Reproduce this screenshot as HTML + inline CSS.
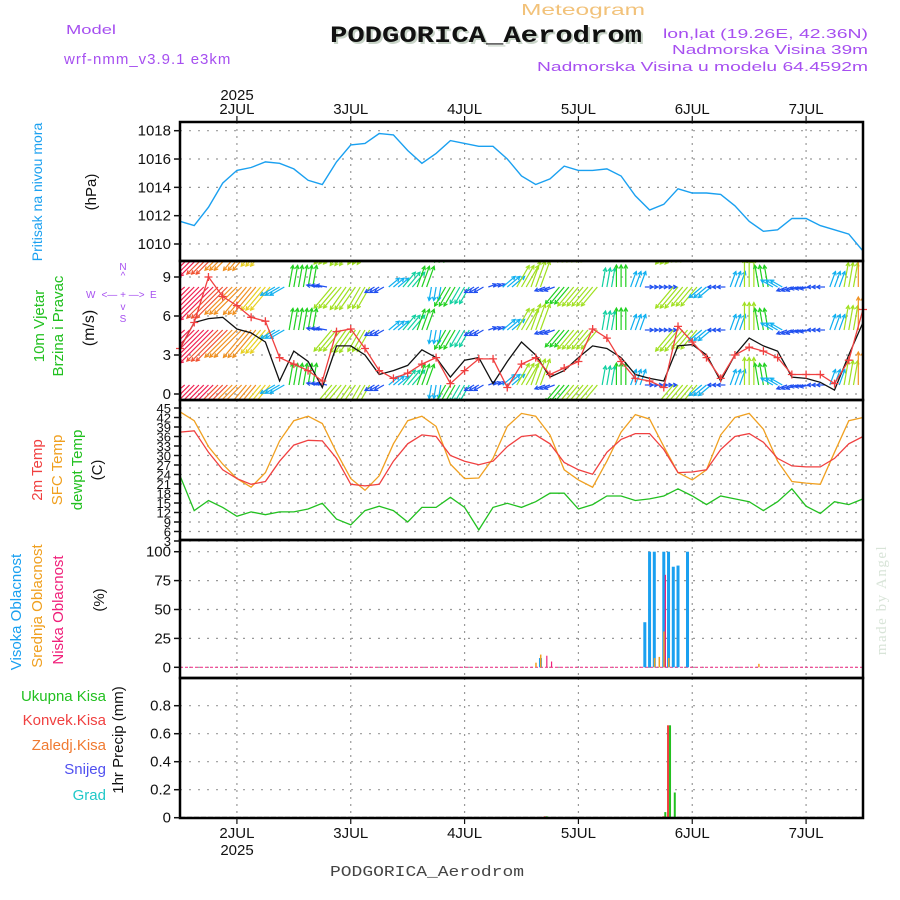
<!DOCTYPE html>
<html><head><meta charset="utf-8">
<style>
html,body{margin:0;padding:0;background:#fff;}
svg{display:block;font-family:"Liberation Sans",sans-serif;}
</style></head>
<body>
<svg id="chart" width="900" height="900" viewBox="0 0 900 900" xmlns="http://www.w3.org/2000/svg">
<defs>
<clipPath id="clipWind"><rect x="181" y="262" width="681" height="137"/></clipPath>
</defs>
<text x="521" y="15" font-size="16" fill="#f2c27a" textLength="124" lengthAdjust="spacingAndGlyphs">Meteogram</text>
<text x="332" y="44" font-size="23" font-weight="bold" fill="#c8d4c8" textLength="312" lengthAdjust="spacingAndGlyphs" font-family="Liberation Mono, monospace">PODGORICA_Aerodrom</text>
<text x="330" y="42" font-size="23" font-weight="bold" fill="#111" textLength="312" lengthAdjust="spacingAndGlyphs" font-family="Liberation Mono, monospace">PODGORICA_Aerodrom</text>
<text x="66" y="34" font-size="13" fill="#a64ff0" textLength="50" lengthAdjust="spacingAndGlyphs">Model</text>
<text x="64" y="64" font-size="15" fill="#a64ff0" letter-spacing="1">wrf-nmm_v3.9.1 e3km</text>
<text x="663" y="38" font-size="13" fill="#a64ff0" textLength="205" lengthAdjust="spacingAndGlyphs">lon,lat (19.26E, 42.36N)</text>
<text x="672" y="54" font-size="13" fill="#a64ff0" textLength="196" lengthAdjust="spacingAndGlyphs">Nadmorska Visina 39m</text>
<text x="537" y="71" font-size="13" fill="#a64ff0" textLength="331" lengthAdjust="spacingAndGlyphs">Nadmorska Visina u modelu 64.4592m</text>
<text x="237" y="100" font-size="15" fill="#111" text-anchor="middle">2025</text>
<text x="237" y="855" font-size="15" fill="#111" text-anchor="middle">2025</text>
<text x="330" y="876" font-size="15" fill="#444" textLength="194" lengthAdjust="spacingAndGlyphs" font-family="Liberation Mono, monospace">PODGORICA_Aerodrom</text>
<text transform="translate(886,600) rotate(-90)" font-size="15" fill="#d8e4d8" text-anchor="middle" font-family="Liberation Serif, serif" letter-spacing="1.5">made by Angel</text>

<text transform="translate(42,192) rotate(-90)" font-size="14" fill="#1aa0f0" text-anchor="middle">Pritisak na nivou mora</text>
<text transform="translate(96,192) rotate(-90)" font-size="15" fill="#111" text-anchor="middle">(hPa)</text>
<text transform="translate(44,326) rotate(-90)" font-size="15" fill="#22c020" text-anchor="middle">10m Vjetar</text>
<text transform="translate(63,326) rotate(-90)" font-size="15" fill="#22c020" text-anchor="middle">Brzina i Pravac</text>
<text transform="translate(94,328) rotate(-90)" font-size="16" fill="#111" text-anchor="middle">(m/s)</text>
<g font-size="10" fill="#a64ff0">
<text x="123" y="270" text-anchor="middle">N</text>
<text x="123" y="279" text-anchor="middle">^</text>
<text x="123" y="310" text-anchor="middle">v</text>
<text x="123" y="322" text-anchor="middle">S</text>
<text x="86" y="298">W</text>
<text x="150" y="298">E</text>
<text x="123" y="298" text-anchor="middle">&lt;— + —&gt;</text>
</g>
<text transform="translate(42,470) rotate(-90)" font-size="15" fill="#f04040" text-anchor="middle">2m Temp</text>
<text transform="translate(62,470) rotate(-90)" font-size="15" fill="#f0a020" text-anchor="middle">SFC Temp</text>
<text transform="translate(82,470) rotate(-90)" font-size="15" fill="#22c020" text-anchor="middle">dewpt Temp</text>
<text transform="translate(102,470) rotate(-90)" font-size="15" fill="#111" text-anchor="middle">(C)</text>
<text transform="translate(21,612) rotate(-90)" font-size="15" fill="#1aa0f0" text-anchor="middle">Visoka Oblacnost</text>
<text transform="translate(42,606) rotate(-90)" font-size="15" fill="#f0a020" text-anchor="middle">Srednja Oblacnost</text>
<text transform="translate(63,610) rotate(-90)" font-size="15" fill="#f0207a" text-anchor="middle">Niska Oblacnost</text>
<text transform="translate(104,600) rotate(-90)" font-size="15" fill="#111" text-anchor="middle">(%)</text>
<g font-size="15" text-anchor="end">
<text x="106" y="701" fill="#22c020">Ukupna Kisa</text>
<text x="106" y="725" fill="#f04040">Konvek.Kisa</text>
<text x="106" y="750" fill="#f07a30">Zaledj.Kisa</text>
<text x="106" y="774" fill="#5050f0">Snijeg</text>
<text x="106" y="800" fill="#20c8c8">Grad</text>
</g>
<text transform="translate(123,740) rotate(-90)" font-size="15" fill="#111" text-anchor="middle">1hr Precip (mm)</text>

<g id="grid"></g>
<g id="marks"></g>
<g id="frames"></g>
<g id="axes"></g>
</svg>
<script>
const dayLabels = ["2JUL","3JUL","4JUL","5JUL","6JUL","7JUL"];
const dayHours = [12,36,60,84,108,132];
const pressure = [1011.6,1011.3,1012.6,1014.3,1015.2,1015.4,1015.8,1015.7,1015.3,1014.5,1014.2,1015.8,1017.0,1017.1,1017.8,1017.7,1016.6,1015.7,1016.4,1017.3,1017.1,1016.9,1016.9,1016.0,1014.8,1014.2,1014.6,1015.5,1015.2,1015.2,1015.3,1014.8,1013.4,1012.4,1012.8,1013.9,1013.6,1013.6,1013.5,1012.7,1011.6,1010.9,1011.0,1011.8,1011.8,1011.3,1011.0,1010.7,1009.5];
const windSpeed = [3.5,5.5,5.8,5.9,5.0,4.7,4.0,1.0,3.3,2.5,0.5,3.7,3.7,3.0,1.5,1.8,2.2,3.4,2.8,1.3,2.6,2.8,0.8,2.5,4.0,3.0,1.3,1.8,2.8,3.7,3.5,2.8,1.5,1.2,1.0,3.7,3.8,3.0,1.0,3.0,4.3,3.7,3.3,1.3,1.2,0.9,0.3,3.0,5.5];
const windGust = [3.5,5.5,9.0,7.5,6.8,5.9,5.6,2.8,2.3,1.8,1.0,4.8,5.0,3.5,1.8,1.2,1.6,2.3,2.8,0.8,1.8,2.7,2.7,0.5,2.3,2.8,1.5,2.0,2.5,5.0,4.3,2.5,1.2,1.0,0.5,5.2,4.0,2.8,1.2,3.0,3.6,3.3,2.8,1.5,1.5,1.5,0.8,2.6,6.5];
const windDir = [50,45,45,45,45,40,40,60,190,190,100,40,35,30,60,230,220,200,10,30,30,60,250,230,210,200,70,40,40,40,190,180,200,270,270,40,40,50,90,200,180,170,120,70,80,90,200,190,180];
const windArrowSpd = [9,8.5,8.5,8,7,6.5,5.5,3,4,4,2,5,5,4.5,2,2.5,3.5,4,2.5,4,3.5,2,1.5,3,4.5,5,2,4,4.5,4.5,3.5,4,3,1.5,1.5,5,4.5,3,1.5,3,5,4,2.5,2,2,1.5,3,4.5,6];
const temp2m = [37.4,37.8,31,25.5,22.7,20.9,21.8,28.2,33.3,34.8,34.6,29.1,20.9,20.4,20.9,28.2,33.7,36.5,36,30,28.2,27.1,28.2,32.8,36,36.5,33.7,27.8,25.5,24.1,31,35.1,36.9,36.9,31.9,24.6,24.8,25.5,31.9,36,36.9,34.2,29.1,26.7,26.4,26.4,29.1,33.7,36];
const tempSfc = [43.8,41,32.8,27.3,22.7,20,24.6,34.6,41,42.4,40.1,31,22.7,19,23.6,33.7,41,42.4,39.2,27.3,22.7,22.9,29.1,39.2,43.3,42.4,36.5,25.5,22.3,20,28.2,37.4,42.9,41.5,32.8,24.6,22.3,25.5,36.5,42,43.3,38.3,28.2,21.8,21.3,20.9,31,41,42];
const tempDew = [23.6,12.6,15.8,13.6,10.8,12.2,11.3,12.2,12.2,13.1,14.9,9.9,8.1,12.6,14,12.6,9,13.6,13.6,16.8,13.6,6.5,13.6,14.9,13.6,15.4,18.1,18.1,13.1,14.5,17.2,17.2,15.8,16.3,17.2,19.5,17.2,14.5,17.2,16.3,15.4,12.6,15.4,19.5,14,11.7,15.4,14.5,16.3];
const cloudHighHours = [76,98,99,100,102,103,104,105,107];
const cloudHigh = [8,39,100,100,100,100,87,88,100];
const cloudMidHours = [75,76,100,101,102,103,122];
const cloudMid = [4,11,8,9,31,8,3];
const cloudLowHours = [77,78,102];
const cloudLow = [10,5,80];
const precipHours = [77,102,103,104];
const precipTotal = [0.01,0.04,0.66,0.18];
const precipConv = [0.01,0.01,0.66,0.0];
const pTicks = [1010,1012,1014,1016,1018];
const wTicks = [0,3,6,9];
const tTicks = [3,6,9,12,15,18,21,24,27,30,33,36,39,42,45];
const cTicks = [0,25,50,75,100];
const prTicks = [0,0.2,0.4,0.6,0.8];

const X0=180, X1=863, H=144;
const xs = h => X0 + (h/H)*(X1-X0);
const yP = v => 244 - (v-1010)*(244-130.7)/8;
const yW = v => 394 - v*13;
const yT = v => 408 + (45-v)*(541-408)/42;
const yC = v => 667.3 - v*(667.3-551.7)/100;
const yR = v => 817.7 - v*140;
const panels=[[122,261,yP,pTicks,v=>v],[261,400,yW,wTicks,v=>v],[400,540,yT,tTicks,v=>v],[540,678,yC,cTicks,v=>v],[678,818,yR,prTicks,v=>v===0?"0":v.toFixed(1)]];

const NS="http://www.w3.org/2000/svg";
const mk=(p,tag,attrs)=>{const e=document.createElementNS(NS,tag);for(const k in attrs)e.setAttribute(k,attrs[k]);p.appendChild(e);return e;};
const grid=document.getElementById('grid'), marks=document.getElementById('marks'), frames=document.getElementById('frames'), axes=document.getElementById('axes');

panels.forEach((p,pi)=>{
  const [top,bot,ys,ticks,fmt]=p;
  dayHours.forEach(h=>{
    const l=mk(grid,'line',{x1:xs(h),x2:xs(h),y1:top,y2:bot,stroke:'#999','stroke-width':1.2,'stroke-dasharray':'2,5'});
    
    
  });
  ticks.forEach(t=>{
    const y=ys(t);
    const l=mk(grid,'line',{x1:X0,x2:X1,y1:y,y2:y,stroke:'#999','stroke-width':1.2,'stroke-dasharray':'2,7'});
    
    
    mk(axes,'line',{x1:X0-6,x2:X0,y1:y,y2:y,stroke:'#111','stroke-width':1.5});
    const tx=mk(axes,'text',{x:X0-9,y:y+5,'font-size':pi===2?13:15,'text-anchor':'end',fill:'#111'});
    tx.textContent=fmt(t);
    
    
  });
  const r=mk(frames,'rect',{x:X0,y:top,width:X1-X0,height:bot-top,fill:'none',stroke:'#000','stroke-width':2.5});
  
  
});
dayHours.forEach((h,i)=>{
  mk(axes,'line',{x1:xs(h),x2:xs(h),y1:116,y2:122,stroke:'#111','stroke-width':1.2});
  const t=mk(axes,'text',{x:xs(h),y:114,'font-size':15,'text-anchor':'middle',fill:'#111'});
  t.textContent=dayLabels[i];
  
  
  mk(axes,'line',{x1:xs(h),x2:xs(h),y1:818,y2:824,stroke:'#111','stroke-width':1.2});
  const b=mk(axes,'text',{x:xs(h),y:838,'font-size':15,'text-anchor':'middle',fill:'#111'});
  b.textContent=dayLabels[i];
  
  
});

const poly=(arr,ys,color,name,w)=>{
  const pts=arr.map((v,i)=>xs(i*3).toFixed(1)+','+ys(v).toFixed(1)).join(' ');
  const e=mk(marks,'polyline',{points:pts,fill:'none',stroke:color,'stroke-width':w||1.3});
  
  
};
poly(pressure,yP,'#1aa0f0','pressure-line',1.4);
poly(tempSfc,yT,'#f0a020','sfc-temp-line');
poly(temp2m,yT,'#f04040','temp-2m-line');
poly(tempDew,yT,'#22c020','dewpoint-line');

const wg=mk(marks,'g',{'clip-path':'url(#clipWind)'});


function spdColor(s){
  const stops=[[1,'#8a20e0'],[2,'#2050f0'],[3,'#10b0f0'],[3.7,'#10d0a0'],[4.3,'#20d020'],[5,'#a0e020'],[5.8,'#e8d020'],[7,'#f09020'],[8,'#f05030'],[9,'#f02050']];
  for(let i=0;i<stops.length;i++) if(s<=stops[i][0]) return stops[i][1];
  return '#f01060';
}
const rows=[243,287,330,385];
rows.forEach(ry=>{
  windDir.forEach((d,i)=>{
    const s=windArrowSpd[i];
    const L=s*5.5;
    const toRad=(d+180)*Math.PI/180;
    const dx=Math.sin(toRad)*L, dy=-Math.cos(toRad)*L;
    const x=xs(i*3), c=spdColor(s);
    const g=mk(wg,'g',{stroke:c,'stroke-width':1.2,fill:'none'});
    
    
    for(let k=0;k<3;k++){
      const ox=x+k*4.7-4.7;
      const ex=ox+dx, ey=ry+dy;
      mk(g,'line',{x1:ox,y1:ry,x2:ex,y2:ey});
      const a=Math.atan2(dy,dx);
      mk(g,'polyline',{points:`${ex-4*Math.cos(a-0.5)},${ey-4*Math.sin(a-0.5)} ${ex},${ey} ${ex-4*Math.cos(a+0.5)},${ey-4*Math.sin(a+0.5)}`});
    }
  });
});
poly(windSpeed,yW,'#111','wind-speed-line',1.3);
poly(windGust,yW,'#f04040','wind-gust-line',1.3);
windGust.forEach((v,i)=>{
  const x=xs(i*3), y=yW(v);
  const p=mk(marks,'path',{d:`M${x-4},${y}H${x+4}M${x},${y-4}V${y+4}`,stroke:'#f04040','stroke-width':1.3});
  
  
});

mk(marks,'line',{x1:X0,x2:X1,y1:yC(0),y2:yC(0),stroke:'#f04090','stroke-width':1.2,'stroke-dasharray':'3,2'});
const bar=(hours,vals,ys,color,off,w,name)=>{
  hours.forEach((h,i)=>{
    const y=ys(vals[i]), y0=ys(0);
    const r=mk(marks,'rect',{x:xs(h)+off,y:Math.min(y,y0),width:w,height:Math.abs(y0-y),fill:color});
    
    
  });
};
bar(cloudHighHours,cloudHigh,yC,'#1aa0f0',-1.5,3,'cloud-high-bar');
bar(cloudMidHours,cloudMid,yC,'#f0a020',-0.5,1.5,'cloud-mid-bar');
bar(cloudLowHours,cloudLow,yC,'#f0207a',1,1.2,'cloud-low-bar');
mk(marks,'line',{x1:X0,x2:X1,y1:yR(0),y2:yR(0),stroke:'#111','stroke-width':1.6,'stroke-dasharray':'5,2'});
bar(precipHours,precipConv,yR,'#f04040',-1.5,2,'precip-convective-bar');
bar(precipHours,precipTotal,yR,'#22c020',0.5,2,'precip-total-bar');
</script>
</body></html>
